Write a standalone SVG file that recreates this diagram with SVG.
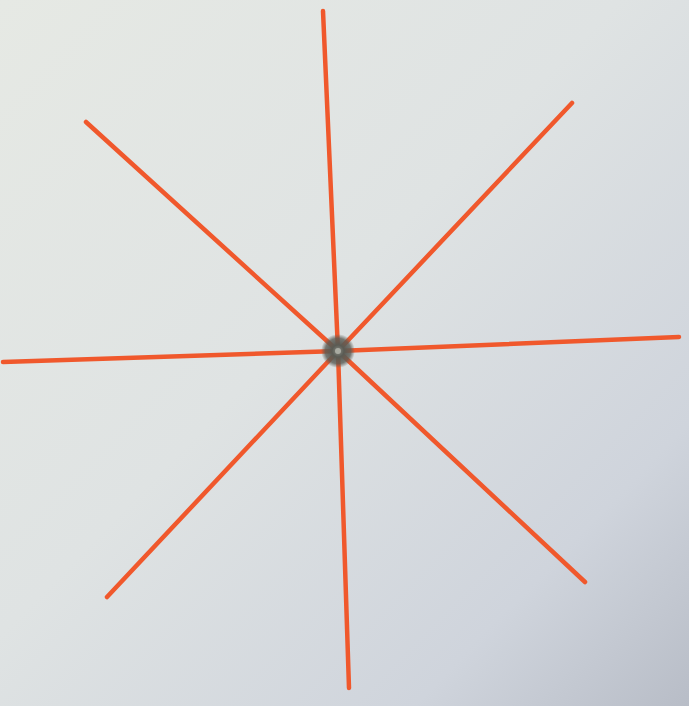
<svg xmlns="http://www.w3.org/2000/svg" width="689" height="706" viewBox="0 0 689 706">
<defs>
<linearGradient id="bg" x1="0" y1="0" x2="1" y2="1">
<stop offset="0" stop-color="#e6e9e4"/>
<stop offset="0.45" stop-color="#dfe3e3"/>
<stop offset="0.8" stop-color="#cfd4dc"/>
<stop offset="1" stop-color="#b8bdc7"/>
</linearGradient>
<radialGradient id="hub">
<stop offset="0" stop-color="#8a8c84"/>
<stop offset="0.35" stop-color="#5a5b54"/>
<stop offset="0.75" stop-color="#5a5b54" stop-opacity="0.8"/>
<stop offset="1" stop-color="#5a5b54" stop-opacity="0"/>
</radialGradient>
</defs>
<style>
.stick{stroke:#f0582c;stroke-width:4.5;stroke-linecap:round;fill:none}
</style>
<rect x="0" y="0" width="689" height="706" fill="url(#bg)"/>
<g id="connectors">
<line class="stick" x1="323" y1="11" x2="338" y2="351"/>
<line class="stick" x1="338" y1="351" x2="349" y2="688"/>
<line class="stick" x1="572" y1="103" x2="338" y2="351"/>
<line class="stick" x1="338" y1="351" x2="107" y2="597"/>
<line class="stick" x1="86" y1="122" x2="338" y2="351"/>
<line class="stick" x1="338" y1="351" x2="585" y2="582"/>
<line class="stick" x1="3" y1="362" x2="338" y2="351"/>
<line class="stick" x1="338" y1="351" x2="679" y2="337"/>
</g>
<g id="hub">
<circle cx="338" cy="351" r="17" fill="url(#hub)"/>
<circle cx="338" cy="351" r="3" fill="#a9aba2"/>
</g>
</svg>
